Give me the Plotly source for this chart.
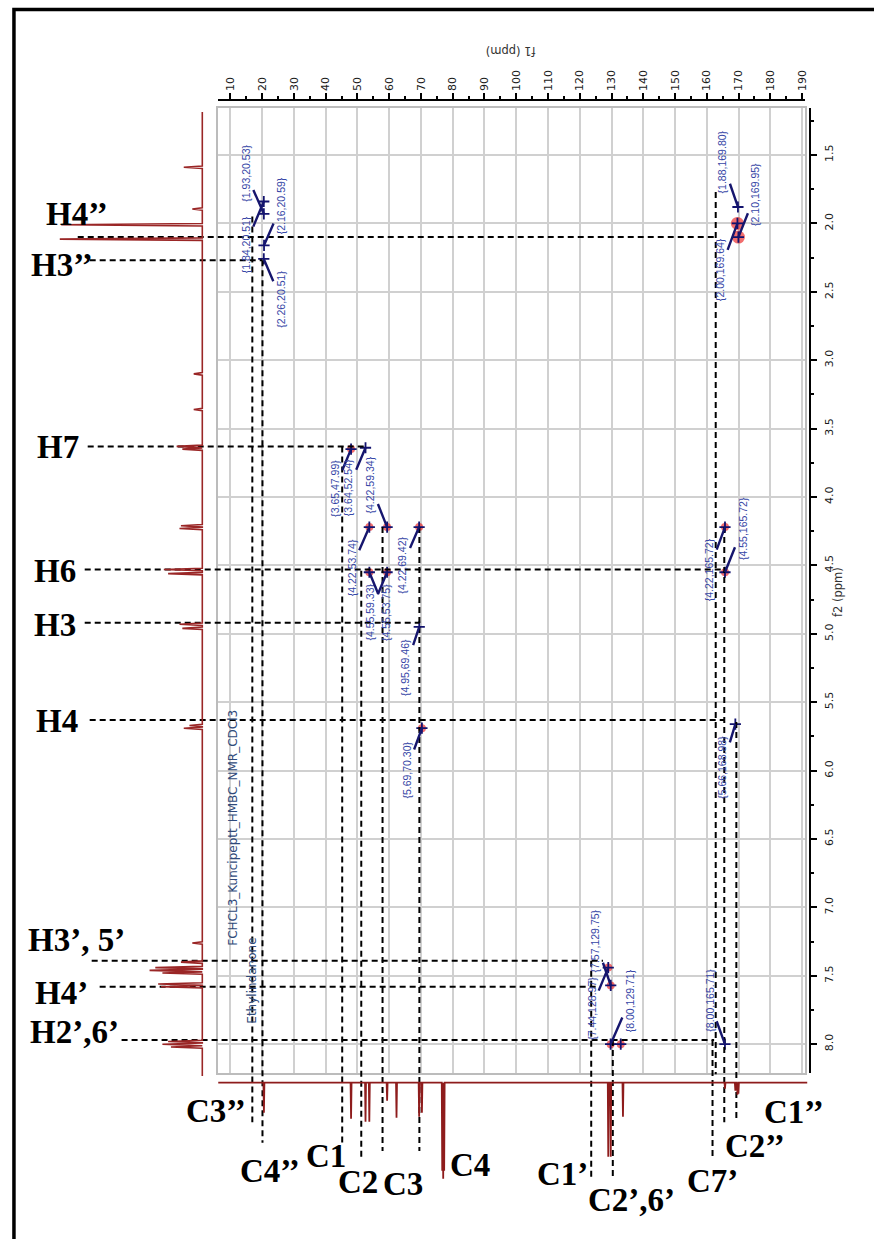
import plotly.graph_objects as go

W, H = 874, 1239

# ---------------- data ----------------
# HMBC cross peaks (f2 = 1H ppm, f1 = 13C ppm)
cross_f2 = [1.84, 1.93, 2.16, 2.26, 1.88, 2.10, 2.00, 3.65, 3.64, 4.22, 4.22, 4.22,
            4.55, 4.55, 4.95, 5.69, 5.66, 4.22, 4.55, 7.57, 7.44, 8.00, 8.00]
cross_f1 = [20.51, 20.53, 20.59, 20.51, 169.80, 169.95, 169.64, 47.99, 52.54, 59.34, 53.74, 69.42,
            59.33, 53.75, 69.46, 70.30, 168.98, 165.72, 165.72, 129.75, 128.97, 129.71, 165.71]
# unlabeled cross peak
extra_f2 = [8.00]
extra_f1 = [132.90]
# positive-phase (red) contours
red_f2 = [2.00, 2.10, 3.65, 4.22, 4.22, 4.22, 4.55, 4.55, 5.69, 4.22, 4.55, 7.44, 7.57, 8.00, 8.00]
red_f1 = [169.64, 169.95, 47.99, 59.34, 53.74, 69.42, 59.33, 53.75, 70.30, 165.72, 165.72,
          128.97, 129.75, 129.71, 132.90]

# 1H projection (ppm, relative intensity)
h1_ppm = [1.59, 1.895, 2.01, 2.115, 3.10, 3.36, 3.63, 3.65, 4.21, 4.23, 4.53, 4.56, 4.93, 4.96,
          5.67, 5.69, 7.26, 7.40, 7.44, 7.46, 7.48, 7.56, 7.58, 7.98, 8.00, 8.02]
h1_int = [0.13, 0.07, 0.99, 1.00, 0.06, 0.06, 0.18, 0.14, 0.15, 0.16, 0.27, 0.24, 0.16, 0.14,
          0.09, 0.13, 0.07, 0.15, 0.33, 0.37, 0.28, 0.31, 0.29, 0.24, 0.28, 0.22]

# 13C projection (ppm, relative intensity, drawn downward)
c13_ppm = [20.55, 47.99, 52.54, 53.74, 59.34, 62.3, 69.42, 70.30, 76.7, 77.0, 77.3,
           128.97, 129.75, 133.6, 165.72, 168.98, 169.64, 169.95]
c13_int = [0.30, 0.36, 0.39, 0.39, 0.18, 0.35, 0.34, 0.30, 0.88, 0.96, 0.88,
           0.74, 0.74, 0.34, 0.06, 0.08, 0.12, 0.11]

# proton assignments: label, shift (f2 ppm), f1 ppm where the guide ends
h_labels = ["H4’’", "H3’’", "H7", "H6", "H3", "H4", "H3’, 5’", "H4’", "H2’,6’"]
h_shift = [2.10, 2.27, 3.63, 4.53, 4.92, 5.63, 7.39, 7.58, 7.97]
h_to_f1 = [162.8, 20.0, 52.5, 165.5, 69.5, 165.5, 127.3, 125.5, 162.3]

# carbon assignments: label, shift (f1 ppm), f2 ppm where the guide starts / ends
c_labels = ["C3’’", "C4’’", "C1", "C2", "C3", "C4", "C1’", "C2’,6’", "C7’", "", "C2’’", "C1’’"]
c_shift = [16.9, 20.1, 45.2, 51.2, 57.9, 69.5, 123.6, 130.4, 161.8, 162.8, 165.5, 169.3]
c_from_f2 = [1.95, 2.27, 3.63, 4.54, 4.22, 4.22, 7.39, 7.97, 7.97, 1.77, 4.22, 5.645]
c_to_f2 = [8.57, 8.72, 8.72, 8.84, 8.78, 8.78, 8.97, 8.98, 8.83, 8.22, 8.57, 8.55]

sample_lines = ["FCHCL3_Kuncipeptt_HMBC_NMR_CDCl3", "Ethylindanone"]

# ---------------- layout geometry ----------------
X10, XPX = 231.2, 3.187      # pixel column of 10 ppm, px per ppm (f1)
Y15, YPX = 155.0, 136.8      # pixel row of 1.5 ppm, px per ppm (f2)


def f1_at(px):
    return 10 + (px - X10) / XPX


def f2_at(py):
    return 1.5 + (py - Y15) / YPX


PL, PR, PT, PB = 218.5, 808.0, 108.0, 1073.0
H1_BASE, H1_SCALE = 203.0, 143.0
C13_BASE, C13_SCALE = 1082.7, 100.0

# label offsets for the cross-peak tags (pixels)
tag_off = [(-18, 43), (-18, -41), (17, -39), (17, 40), (-15.5, -45), (17, -42.6), (-17.3, 46.6),
           (-16.3, 39), (-16.8, 39.7), (-16.7, -42), (-17.6, 40.4), (-16.6, 38),
           (-16.7, 40), (16.4, 40), (-13.6, 40.5), (-15.3, 41.8), (-13, 43.4), (-15.8, 43),
           (17.5, -43.7), (-15.3, -44.4), (-17.1, 41), (19.2, -43.7), (-15.8, -43.7)]
h_lab_pos = [(77, 214), (62, 265), (58, 447), (55, 571), (55, 625), (57, 721), (77, 940),
             (62, 993), (75, 1032)]
h_start_px = [78, 90, 88, 85, 85, 90, 92, 100, 122]
c_lab_pos = [(217, 1111), (271, 1171), (327, 1156), (359, 1182), (404, 1184), (472, 1165),
             (564, 1174), (634, 1200), (715, 1181), None, (758, 1146), (797, 1112)]
red_size = [13, 13] + [8] * 13


def sticks(pos, amp, half, lo, hi):
    xs, ys = [lo], [0.0]
    for p, a in sorted(zip(pos, amp)):
        xs += [p - half, p, p + half]
        ys += [0.0, a, 0.0]
    xs.append(hi)
    ys.append(0.0)
    return xs, ys


fig = go.Figure()

# 1H projection (left)
hp, hi_ = sticks(h1_ppm, h1_int, 0.009, f2_at(112), f2_at(1076))
fig.add_trace(go.Scatter(x=hi_, y=hp, xaxis="x3", yaxis="y2", mode="lines",
                         line=dict(color="#9a2626", width=1.6), hoverinfo="skip"))
# 13C projection (bottom)
cp, ci = sticks(c13_ppm, [-a for a in c13_int], 0.15, f1_at(219), f1_at(810))
fig.add_trace(go.Scatter(x=cp, y=ci, xaxis="x2", yaxis="y4", mode="lines",
                         line=dict(color="#8e1c1c", width=1.8), hoverinfo="skip"))

# red positive contours
fig.add_trace(go.Scatter(x=red_f1, y=red_f2, mode="markers", xaxis="x", yaxis="y",
                         marker=dict(color="rgba(235,25,25,0.9)", size=red_size, line=dict(width=0)),
                         hoverinfo="skip"))
# cross-peak markers
fig.add_trace(go.Scatter(x=cross_f1 + extra_f1, y=cross_f2 + extra_f2, mode="markers",
                         xaxis="x", yaxis="y",
                         marker=dict(symbol="cross-thin", size=8,
                                     line=dict(width=1.8, color="#12126e")),
                         hoverinfo="skip"))

# dashed assignment guides
hx, hy = [], []
for s, e, st in zip(h_shift, h_to_f1, h_start_px):
    hx += [f1_at(st), e, None]
    hy += [s, s, None]
for c, a, b in zip(c_shift, c_from_f2, c_to_f2):
    hx += [c, c, None]
    hy += [a, b, None]
fig.add_trace(go.Scatter(x=hx, y=hy, xaxis="x2", yaxis="y2", mode="lines",
                         line=dict(color="black", width=2, dash="6px,4px"), hoverinfo="skip"))

# dummy traces for the tick axes
fig.add_trace(go.Scatter(x=[None], y=[None], xaxis="x4", yaxis="y", showlegend=False))
fig.add_trace(go.Scatter(x=[None], y=[None], xaxis="x", yaxis="y5", showlegend=False))

ann = []
for (f2, f1, (ax, ay)) in zip(cross_f2, cross_f1, tag_off):
    ann.append(dict(x=f1, y=f2, xref="x", yref="y", ax=ax, ay=ay,
                    text="{%.2f,%.2f}" % (f2, f1), textangle=-90, showarrow=True,
                    arrowhead=0, arrowwidth=2.4, arrowcolor="#16166e", standoff=0,
                    font=dict(family="Liberation Sans", size=10.5, color="#3646a6")))

big = dict(family="Liberation Serif", size=33, color="black")
for lab, (px, py) in zip(h_labels, h_lab_pos):
    ann.append(dict(x=px / W, y=1 - py / H, xref="paper", yref="paper", text="<b>%s</b>" % lab,
                    showarrow=False, xanchor="center", yanchor="middle", font=big))
for lab, pos in zip(c_labels, c_lab_pos):
    if not lab:
        continue
    px, py = pos
    ann.append(dict(x=px / W, y=1 - py / H, xref="paper", yref="paper", text="<b>%s</b>" % lab,
                    showarrow=False, xanchor="center", yanchor="middle", font=big))

axfont = dict(family="DejaVu Sans", size=11, color="#1a1a1a")
ann.append(dict(x=512 / W, y=1 - 42 / H, xref="paper", yref="paper", text="f1 (ppm)",
                textangle=180, showarrow=False, font=dict(family="DejaVu Sans", size=11.5, color="#333")))
ann.append(dict(x=850 / W, y=1 - 592 / H, xref="paper", yref="paper", text="f2 (ppm)",
                textangle=-90, showarrow=False, font=dict(family="DejaVu Sans", size=11.5, color="#333")))
for txt, (px, py) in zip(sample_lines, [(224, 947.5), (243, 1025.5)]):
    ann.append(dict(x=px / W, y=1 - py / H, xref="paper", yref="paper", text=txt,
                    textangle=-90, showarrow=False,
                    font=dict(family="DejaVu Sans", size=12, color="#2f4a7a")))

grid = "#d0d0d0"
xr = [f1_at(PL), f1_at(PR)]
yr = [f2_at(PB), f2_at(PT)]
fig.update_layout(
    width=W, height=H, margin=dict(l=0, r=0, t=0, b=0, pad=0),
    paper_bgcolor="white", plot_bgcolor="rgba(0,0,0,0)", showlegend=False,
    xaxis=dict(domain=[PL / W, PR / W], range=xr, anchor="y", showgrid=True, gridcolor=grid,
               gridwidth=1.5, tick0=10, dtick=10, showticklabels=False, ticks="", zeroline=False,
               showline=True, linecolor="#bcbcbc", linewidth=1.5, mirror=True),
    yaxis=dict(domain=[1 - PB / H, 1 - PT / H], range=yr, anchor="x", showgrid=True,
               gridcolor=grid, gridwidth=1.5, tick0=0, dtick=0.5, showticklabels=False, ticks="",
               zeroline=False, showline=True, linecolor="#bcbcbc", linewidth=1.5, mirror=True),
    xaxis2=dict(domain=[0, 1], range=[f1_at(0), f1_at(W)], visible=False, anchor="y2"),
    yaxis2=dict(domain=[0, 1], range=[f2_at(H), f2_at(0)], visible=False, anchor="x2"),
    xaxis3=dict(domain=[0, 1], range=[H1_BASE / H1_SCALE, (H1_BASE - W) / H1_SCALE],
                visible=False, anchor="y2"),
    yaxis4=dict(domain=[0, 1], range=[(C13_BASE - H) / C13_SCALE, C13_BASE / C13_SCALE],
                visible=False, anchor="x2"),
    xaxis4=dict(overlaying="x", anchor="free", position=1 - 100 / H, side="top", range=xr,
                tick0=10, dtick=10, ticks="outside", ticklen=6, tickwidth=1.5, tickcolor="black",
                showline=True, linecolor="black", linewidth=1.5, tickangle=-90, tickfont=axfont,
                showgrid=False, zeroline=False,
                minor=dict(ticks="outside", tick0=5, dtick=10, ticklen=3, tickcolor="black")),
    yaxis5=dict(overlaying="y", anchor="free", position=813 / W, side="right", range=yr,
                tick0=0, dtick=0.5, ticks="outside", ticklen=6, tickwidth=1.5, tickcolor="black",
                showline=True, linecolor="black", linewidth=1.5, tickangle=-90, tickformat=".1f",
                tickfont=axfont, showgrid=False, zeroline=False, ticklabelstandoff=3,
                minor=dict(ticks="outside", tick0=0.25, dtick=0.5, ticklen=3, tickcolor="black")),
    annotations=ann,
    shapes=[dict(type="rect", xref="paper", yref="paper", x0=14 / W, x1=1.05, y0=-0.05,
                 y1=1 - 9.5 / H, line=dict(color="black", width=3.5))],
)

fig.write_html("out.html", config={"displayModeBar": False},
               post_script="document.body.style.margin='0px';")
